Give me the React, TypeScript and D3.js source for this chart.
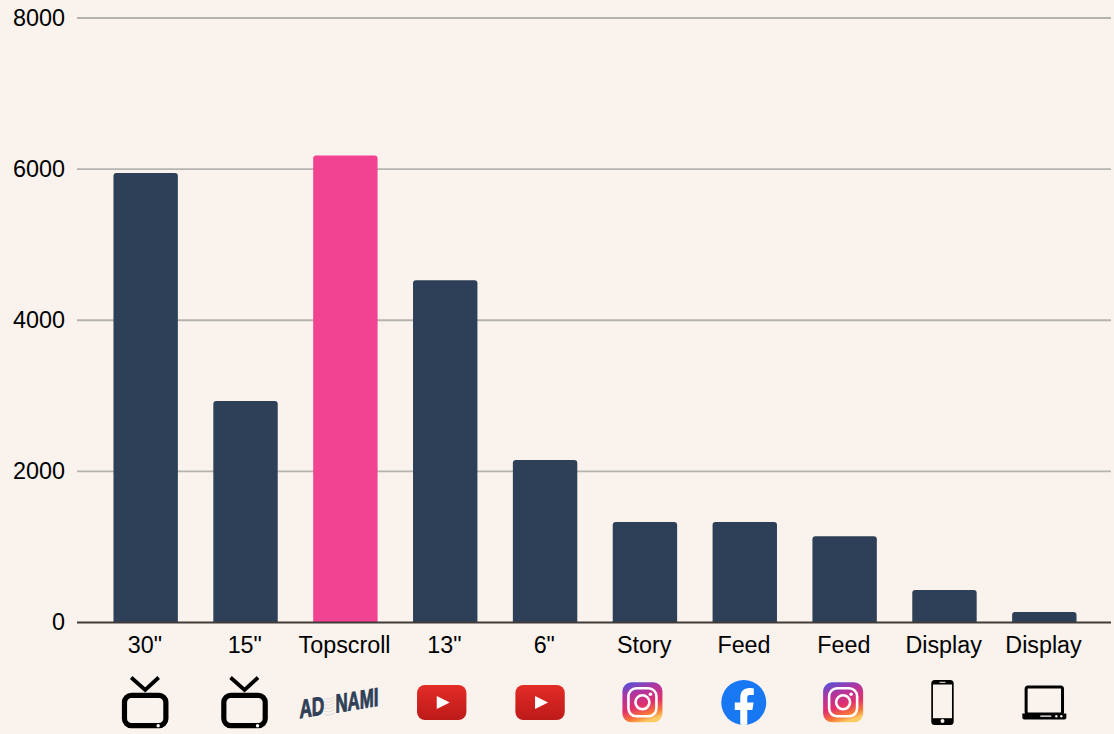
import React from "react";
import * as d3 from "d3";

const WIDTH = 1114;
const HEIGHT = 734;

const categories = ['30"', '15"', "Topscroll", '13"', '6"', "Story", "Feed", "Feed", "Display", "Display"];
const reach = [5950, 2930, 6180, 4530, 2150, 1330, 1330, 1140, 430, 140];
const icons = ["tv", "tv", "adnami", "youtube", "youtube", "instagram", "facebook", "instagram", "phone", "laptop"];
const highlighted = ["Topscroll"];
const yTicks = [0, 2000, 4000, 6000, 8000];

// Horizontal correction of each icon relative to its bar's centre.
const iconShift = [-0.5, -1, -6, -3.5, -5, -2.5, -1, -1.5, -2, 0];

const NAVY = "#2e4057";
const PINK = "#f24393";
const BACKGROUND = "#f9f2ed";

const FONT = '"Liberation Sans", Arial, sans-serif';
const NARROW = '"Liberation Sans Narrow", "Liberation Sans", Arial, sans-serif';

function TvIcon() {
  return (
    <g fill="none" stroke="#000">
      <path d="M-14,-25.5 L0,-13 L13.5,-25.5" strokeWidth={3.8} />
      <rect x={-20.7} y={-7.7} width={41.4} height={30.4} rx={7} strokeWidth={5.2} />
      <circle cx={13} cy={22.8} r={1.7} fill="#fff" stroke="none" />
    </g>
  );
}

function AdnamiIcon() {
  const wave = d3.range(6).map((i) => -7 + i * 3.2);
  return (
    <g transform="skewY(-9)">
      {wave.map((w) => (
        <path key={w} d={`M-15,${w} Q-10,${w + 3} -5,${w}`} fill="none" stroke="#c9c9c9" strokeWidth={0.6} />
      ))}
      <text
        x={-40}
        y={9}
        fontFamily={NARROW}
        fontWeight={700}
        fontSize={26}
        fill={NAVY}
        stroke={NAVY}
        strokeWidth={0.9}
        textLength={25}
        lengthAdjust="spacingAndGlyphs"
      >
        AD
      </text>
      <text
        x={-4}
        y={9}
        fontFamily={NARROW}
        fontWeight={700}
        fontSize={26}
        fill={NAVY}
        stroke={NAVY}
        strokeWidth={0.9}
        textLength={43}
        lengthAdjust="spacingAndGlyphs"
      >
        NAMI
      </text>
    </g>
  );
}

function YoutubeIcon() {
  return (
    <g transform="translate(0,-0.5)">
      <defs>
        <linearGradient id="yt" x1="0" y1="0" x2="0" y2="1">
          <stop offset="0" stopColor="#e32c26" />
          <stop offset="1" stopColor="#bd1a1a" />
        </linearGradient>
      </defs>
      <rect x={-24.7} y={-17.5} width={49.4} height={35} rx={8} fill="url(#yt)" />
      <path d="M-5,-6.5 L8,0 L-5,6.5 Z" fill="#fff" />
    </g>
  );
}

function InstagramIcon({ id }: { id: string }) {
  return (
    <g transform="translate(0,-0.7)">
      <defs>
        <linearGradient id={id} x1="0.2" y1="0" x2="0.55" y2="1">
          <stop offset="0" stopColor="#5b51d8" />
          <stop offset="0.28" stopColor="#b1359f" />
          <stop offset="0.6" stopColor="#e1306c" />
          <stop offset="0.84" stopColor="#f77737" />
          <stop offset="1" stopColor="#fccc63" />
        </linearGradient>
      </defs>
      <rect x={-20} y={-20} width={40} height={40} rx={9} fill={`url(#${id})`} />
      <rect x={-14} y={-14} width={28} height={28} rx={8} fill="none" stroke="#fff" strokeWidth={2.6} />
      <circle r={7} fill="none" stroke="#fff" strokeWidth={2.6} />
      <circle cx={8} cy={-8} r={1.8} fill="#fff" />
    </g>
  );
}

function FacebookIcon() {
  return (
    <g transform="translate(0,-0.5)">
      <clipPath id="fb-clip">
        <circle r={22.5} />
      </clipPath>
      <circle r={22.5} fill="#1877f2" />
      <path
        clipPath="url(#fb-clip)"
        d="M-3.5,23 V7.5 H-9 V0 H-3.5 V-5 C-3.5,-11 0,-14.5 5.5,-14.5 C7.5,-14.5 9.5,-14.2 10,-14 V-7.5 H6.5 C3.5,-7.5 3.5,-6 3.5,-3.5 V0 H9.8 L8.6,7.5 H3.5 V23 Z"
        fill="#fff"
      />
    </g>
  );
}

function PhoneIcon() {
  return (
    <g transform="translate(0,-0.5)">
      <rect x={-11.2} y={-22.5} width={22.4} height={45} rx={3.5} fill="#000" />
      <rect x={-9.5} y={-18} width={19} height={33.7} fill={BACKGROUND} />
      <circle cy={18.5} r={2} fill={BACKGROUND} />
      <rect x={-3} y={-20.7} width={6} height={1} fill={BACKGROUND} />
    </g>
  );
}

function LaptopIcon() {
  return (
    <g>
      <rect x={-18.2} y={-16} width={36.4} height={27} rx={2} fill="none" stroke="#000" strokeWidth={3} />
      <path d="M-22,10.5 H22 V14.5 Q22,16.5 20,16.5 H-20 Q-22,16.5 -22,14.5 Z" fill="#000" />
      <rect x={-4} y={12.5} width={11} height={1.3} fill={BACKGROUND} />
      <circle cx={12} cy={13.2} r={1.2} fill={BACKGROUND} />
      <circle cx={17} cy={13.2} r={1.2} fill={BACKGROUND} />
    </g>
  );
}

function renderIcon(kind: string, index: number) {
  switch (kind) {
    case "tv":
      return <TvIcon />;
    case "adnami":
      return <AdnamiIcon />;
    case "youtube":
      return <YoutubeIcon />;
    case "instagram":
      return <InstagramIcon id={`ig-${index}`} />;
    case "facebook":
      return <FacebookIcon />;
    case "phone":
      return <PhoneIcon />;
    default:
      return <LaptopIcon />;
  }
}

export default function App() {
  const x = d3
    .scaleBand<number>()
    .domain(d3.range(categories.length))
    .range([96, 1094])
    .paddingInner(0.355)
    .paddingOuter(0.175);
  const y = d3.scaleLinear().domain([0, 8000]).range([622.5, 18]);

  return (
    <svg
      width={WIDTH}
      height={HEIGHT}
      style={{ position: "absolute", left: 0, top: 0, background: BACKGROUND, display: "block" }}
    >
      <rect width={WIDTH} height={HEIGHT} fill={BACKGROUND} />
      {yTicks.map((t) => (
        <g key={t}>
          {t !== 0 && <line x1={77} x2={1111} y1={y(t)} y2={y(t)} stroke="#b5b3b0" strokeWidth={1.8} />}
          <text x={65} y={y(t)} dy={7.6} textAnchor="end" fontFamily={FONT} fontSize={23.4} fill="#000">
            {t}
          </text>
        </g>
      ))}
      {reach.map((v, i) => (
        <path
          key={i}
          d={`M${x(i)},${y(0)} V${y(v) + 3} Q${x(i)},${y(v)} ${x(i)! + 3},${y(v)} H${x(i)! + x.bandwidth() - 3} Q${x(i)! + x.bandwidth()},${y(v)} ${x(i)! + x.bandwidth()},${y(v) + 3} V${y(0)} Z`}
          fill={highlighted.includes(categories[i]) ? PINK : NAVY}
        />
      ))}
      <line x1={77} x2={1111} y1={y(0)} y2={y(0)} stroke="#3f3b38" strokeWidth={1.8} />
      {categories.map((c, i) => (
        <text
          key={i}
          x={x(i)! + x.bandwidth() / 2 - 0.8}
          y={653}
          textAnchor="middle"
          fontFamily={FONT}
          fontSize={23.3}
          fill="#000"
        >
          {c}
        </text>
      ))}
      {icons.map((kind, i) => (
        <g key={i} transform={`translate(${x(i)! + x.bandwidth() / 2 + iconShift[i]},703)`}>
          {renderIcon(kind, i)}
        </g>
      ))}
    </svg>
  );
}
